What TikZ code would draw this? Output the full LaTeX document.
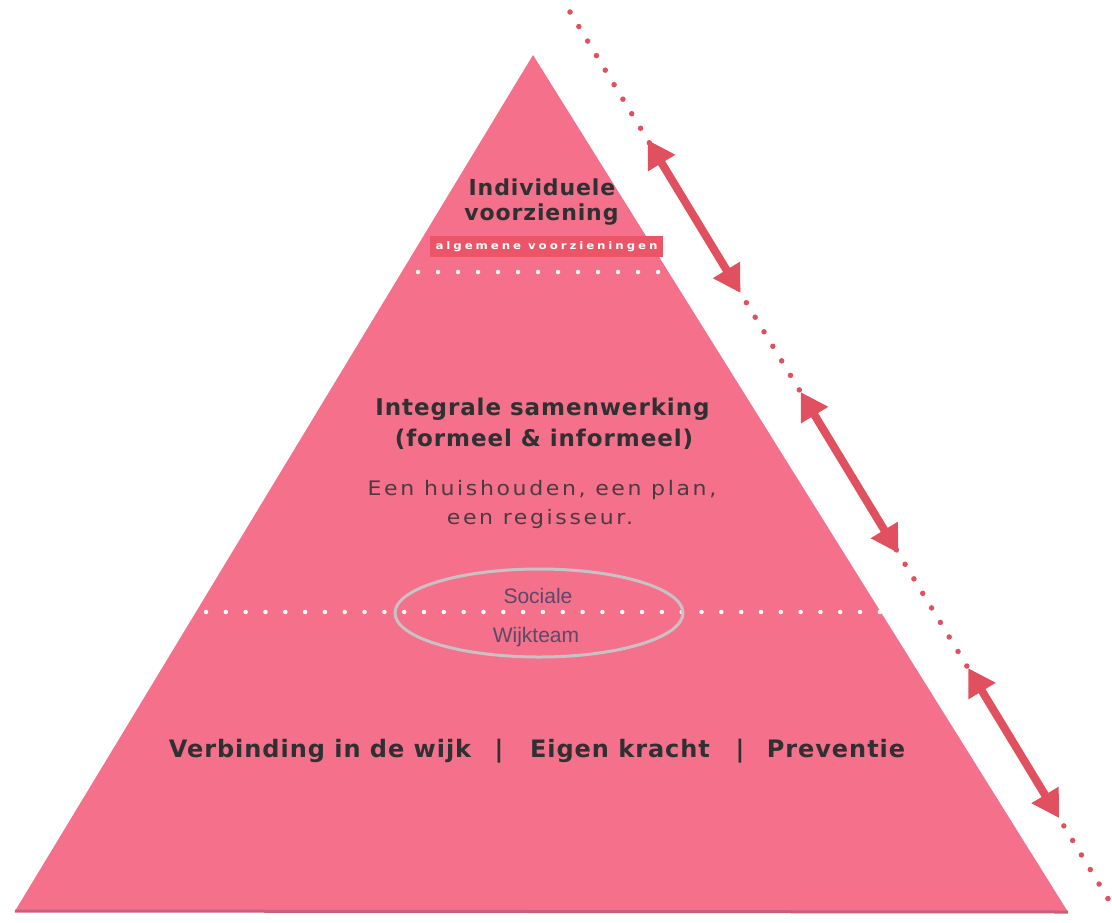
\documentclass[tikz,border=0pt]{standalone}
\usepackage{fontspec}
\setmainfont{DejaVu Sans}
\newfontfamily\headf[LetterSpace=4]{DejaVu Sans}
\newfontfamily\bodyf[LetterSpace=12]{DejaVu Sans}
\newfontfamily\bandf[LetterSpace=25]{DejaVu Sans}
\newfontfamily\narrowf{Liberation Sans}
\usetikzlibrary{arrows.meta,calc}
\definecolor{pyr}{HTML}{F5708A}
\definecolor{pyrdark}{HTML}{C9607A}
\definecolor{band}{HTML}{EC5567}
\definecolor{arr}{HTML}{E0505E}
\definecolor{headtxt}{HTML}{2E3032}
\definecolor{bodytxt}{HTML}{4A3B42}
\definecolor{teamtxt}{HTML}{5A4A68}
\definecolor{ellgray}{HTML}{C8C2C4}
\tikzset{
  headtext/.style={text=headtxt,font=\headf\bfseries\fontsize{22}{22}\selectfont,inner sep=0pt,anchor=base},
  midtext/.style={headtext,font=\headf\bfseries\fontsize{23}{23}\selectfont},
  bottext/.style={headtext,font=\headf\bfseries\fontsize{24}{24}\selectfont},
  bodytext/.style={text=bodytxt,font=\bodyf\fontsize{20}{20}\selectfont,inner sep=0pt,anchor=base,xscale=1.1},
  teamtext/.style={text=teamtxt,font=\narrowf\fontsize{21}{21}\selectfont,inner sep=0pt,anchor=base},
  whitedots/.style={white,line width=4.5pt,line cap=round,dash pattern=on 0pt off 20pt},
  whitedots2/.style={white,line width=4.5pt,line cap=round,dash pattern=on 0pt off 19.82pt},
  reddots/.style={arr,line width=5.5pt,line cap=round,dash pattern=on 0pt off 17pt},
  dblarrow/.style={arr,line width=8pt,{Triangle[length=27pt,width=30pt]}-{Triangle[length=27pt,width=30pt]}}
}
\begin{document}
\begin{tikzpicture}[x=1pt,y=-1pt]
\useasboundingbox (0,0) rectangle (1112,922);
% pyramid
\coordinate (apex) at (533,55);
\coordinate (bl) at (15,911);
\coordinate (br) at (1068,912);
\fill[pyr] (apex) -- (br) -- (bl) -- cycle;
\draw[pyrdark,line width=3pt] (bl) -- (br);
% band
\node[fill=band,minimum width=233pt,minimum height=21pt,inner sep=0pt,anchor=center] (band) at (546.5,246.5) {};
\node[text=white,font=\bandf\bfseries\fontsize{10.5}{10.5}\selectfont,inner sep=0pt,xscale=1.12] (bandtxt) at (band.center) {algemene voorzieningen};
% white dotted separators
\coordinate (d1a) at (418,272);
\coordinate (d1b) at (679,272);
\draw[whitedots] (d1a) -- (d1b);
\coordinate (d2a) at (206,612);
\coordinate (d2b) at (880,612);
\draw[whitedots2] (d2a) -- (d2b);
% ellipse
\draw[ellgray,line width=3pt] (539,613) ellipse [x radius=144pt, y radius=44pt];
\node[teamtext] (soc) at (538,603) {Sociale};
\node[teamtext] (wijk) at (536,642) {Wijkteam};
% texts
\node[headtext] (ind) at (542,195) {Individuele};
\node[headtext] (voor) at (541.5,220) {voorziening};
\node[midtext] (integ) at (542.5,415) {Integrale samenwerking};
\node[midtext] (form) at (544,446) {(formeel \& informeel)};
\node[bodytext] (een1) at (542,495) {Een huishouden, een plan,};
\node[bodytext] (een2) at (540,524) {een regisseur.};
\node[bottext] (verb) at (320,757) {Verbinding in de wijk};
\node[bottext] (sep1) at (499,757) {|};
\node[bottext] (eigen) at (620,757) {Eigen kracht};
\node[bottext] (sep2) at (740,757) {|};
\node[bottext] (prev) at (836,757) {Preventie};
% red dotted line and arrows
\coordinate (la) at (570,12);
\coordinate (lb) at (1110,902);
\draw[reddots] (la) -- (lb);
\coordinate (a1s) at ($(la)!0.1438!(lb)$);
\coordinate (a1e) at ($(la)!0.3157!(lb)$);
\coordinate (a2s) at ($(la)!0.4270!(lb)$);
\coordinate (a2e) at ($(la)!0.6079!(lb)$);
\coordinate (a3s) at ($(la)!0.7371!(lb)$);
\coordinate (a3e) at ($(la)!0.9056!(lb)$);
\draw[dblarrow] (a1s) -- (a1e);
\draw[dblarrow] (a2s) -- (a2e);
\draw[dblarrow] (a3s) -- (a3e);
\end{tikzpicture}
\end{document}
